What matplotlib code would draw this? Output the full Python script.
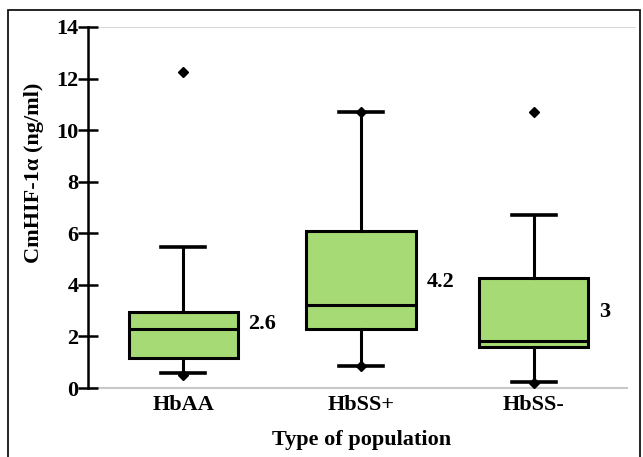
import matplotlib
matplotlib.use("Agg")
import matplotlib.pyplot as plt
from matplotlib.patches import Rectangle

# values
groups = ["HbAA", "HbSS+", "HbSS-"]
q1 = [1.16, 2.29, 1.58]
medians = [2.29, 3.2, 1.83]
q3 = [2.95, 6.08, 4.25]
whisker_lo = [0.58, 0.86, 0.25]
whisker_hi = [5.47, 10.7, 6.7]
outliers = [[12.25, 0.5], [10.7, 0.86], [10.7, 0.2]]
means = ["2.6", "4.2", "3"]
mean_label_y = [2.5, 4.1, 2.95]

plt.rcParams["font.family"] = ["Liberation Serif", "DejaVu Serif"]
plt.rcParams["font.weight"] = "bold"

fig = plt.figure(figsize=(6.43, 4.57), dpi=100)
ax = fig.add_axes([88 / 643, 69 / 457, (636 - 88) / 643, (388 - 27) / 457])

stats = []
for i, name in enumerate(groups):
    stats.append({
        "label": name, "q1": q1[i], "med": medians[i], "q3": q3[i],
        "whislo": whisker_lo[i], "whishi": whisker_hi[i], "fliers": outliers[i],
    })

pos = [0, 1.01, 1.99]
ax.bxp(
    stats, positions=pos, widths=0.62, patch_artist=True,
    boxprops=dict(facecolor="#a6da74", edgecolor="black", linewidth=2.2),
    medianprops=dict(color="black", linewidth=2.2),
    whiskerprops=dict(color="black", linewidth=2.2),
    capprops=dict(color="black", linewidth=2.6),
    capwidths=0.25,
    flierprops=dict(marker="D", markerfacecolor="black", markeredgecolor="black", markersize=5.5),
)

for i in range(len(groups)):
    ax.text(pos[i] + 0.37, mean_label_y[i], means[i], fontsize=16,
            fontweight="bold", ha="left", va="center")

ax.set_xlim(-0.54, 2.57)
ax.set_ylim(0, 14)
ax.set_yticks(range(0, 15, 2))
ax.axhline(14, color="#d9d9d9", lw=1.5, zorder=0)
ax.plot([-0.54, 2.52], [0, 0], color="#c8c8c8", lw=1.5, zorder=0, clip_on=False)

for s in ["top", "right", "bottom"]:
    ax.spines[s].set_visible(False)
ax.spines["left"].set_linewidth(1.8)
ax.tick_params(axis="y", direction="inout", length=14, width=1.8, labelsize=16, pad=0)
ax.tick_params(axis="x", length=0, labelsize=16, pad=5)
for lab in ax.get_xticklabels() + ax.get_yticklabels():
    lab.set_fontweight("bold")

ax.set_ylabel("CmHIF-1α (ng/ml)", fontsize=16, fontweight="bold")
ax.yaxis.set_label_coords(-0.08, 0.596)
ax.set_xlabel("Type of population", fontsize=16, fontweight="bold", labelpad=11)

# outer frame
fig.patches.append(Rectangle((8 / 643, -0.05), (640 - 8) / 643, (447 - 0) / 457 + 0.05,
                             transform=fig.transFigure, fill=False,
                             edgecolor="black", linewidth=1.2))

fig.savefig("out.png", dpi=100)
